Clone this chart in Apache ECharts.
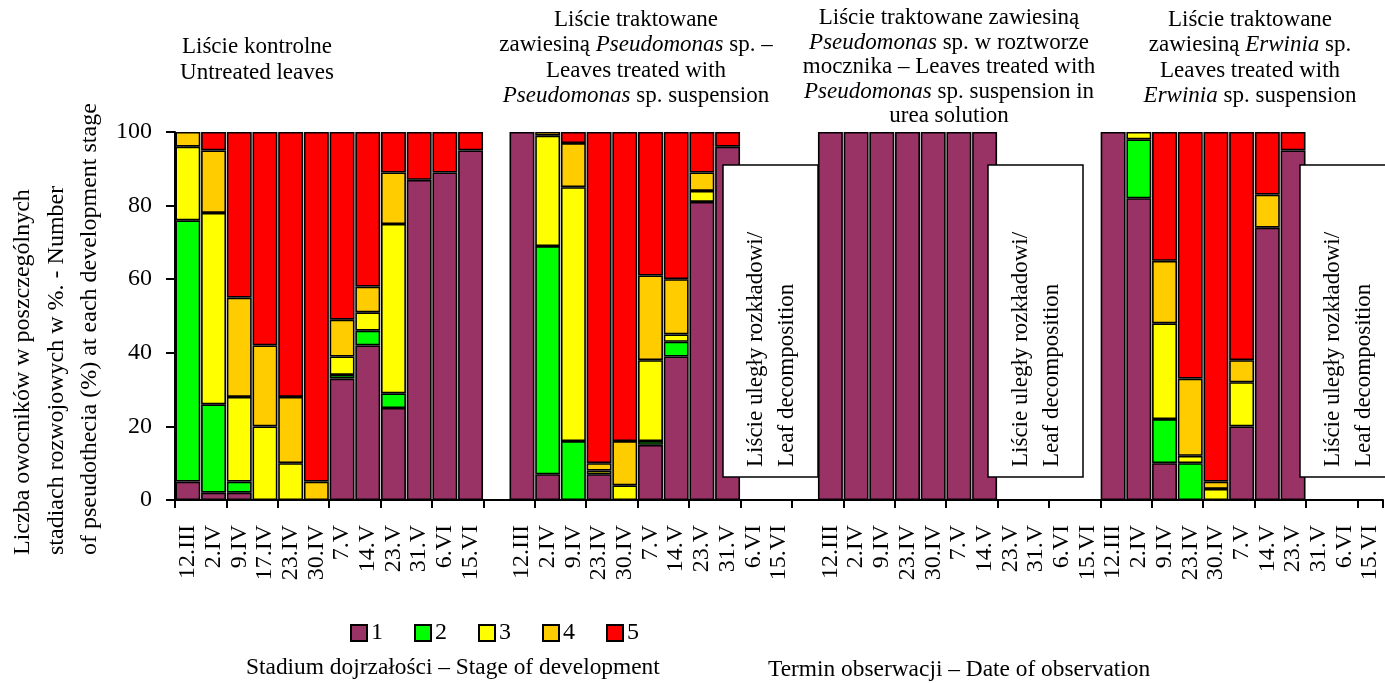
<!DOCTYPE html>
<html><head><meta charset="utf-8">
<script src="https://cdn.jsdelivr.net/npm/echarts@6/dist/echarts.min.js"></script>
<style>html,body{margin:0;padding:0;background:#fff}#c{width:1385px;height:683px}</style>
</head><body><div id="c"></div>
<script>
// ---- categories ----
const datesControl = ['12.III','2.IV','9.IV','17.IV','23.IV','30.IV','7.V','14.V','23.V','31.V','6.VI','15.VI'];
const datesTreated = ['12.III','2.IV','9.IV','23.IV','30.IV','7.V','14.V','23.V','31.V','6.VI','15.VI'];
const stageNames = ['1','2','3','4','5'];
const stageColors = ['#993366','#00ff00','#ffff00','#ffcc00','#ff0000'];

// ---- Panel 1: control (untreated leaves) ----
const p1Stage1 = [5,2,2,0,0,0,33,42,25,87,89,95];
const p1Stage2 = [71,24,3,0,0,0,1,4,4,0,0,0];
const p1Stage3 = [20,52,23,20,10,0,5,5,46,0,0,0];
const p1Stage4 = [4,17,27,22,18,5,10,7,14,0,0,0];
const p1Stage5 = [0,5,45,58,72,95,51,42,11,13,11,5];
// ---- Panel 2: Pseudomonas sp. suspension ----
const p2Stage1 = [100,7,0,7,0,15,39,81,96];
const p2Stage2 = [0,62,16,0,0,1,4,0,0];
const p2Stage3 = [0,30,69,1,4,22,2,3,0];
const p2Stage4 = [0,1,12,2,12,23,15,5,0];
const p2Stage5 = [0,0,3,90,84,39,40,11,4];
// ---- Panel 3: Pseudomonas sp. in urea solution ----
const p3Stage1 = [100,100,100,100,100,100,100];
const p3Stage2 = [0,0,0,0,0,0,0];
const p3Stage3 = [0,0,0,0,0,0,0];
const p3Stage4 = [0,0,0,0,0,0,0];
const p3Stage5 = [0,0,0,0,0,0,0];
// ---- Panel 4: Erwinia sp. suspension ----
const p4Stage1 = [100,82,10,0,0,20,74,95];
const p4Stage2 = [0,16,12,10,0,0,0,0];
const p4Stage3 = [0,2,26,2,3,12,0,0];
const p4Stage4 = [0,0,17,21,2,6,9,0];
const p4Stage5 = [0,0,35,67,95,62,17,5];

// ---- build ----
const categories = [].concat(datesControl, [''], datesTreated, [''], datesTreated, datesTreated);
function pad(arr, n){ const out = arr.map(v => v === 0 ? null : v); while(out.length < n) out.push(null); return out; }
const panels = [
  [p1Stage1,p1Stage2,p1Stage3,p1Stage4,p1Stage5],
  [p2Stage1,p2Stage2,p2Stage3,p2Stage4,p2Stage5],
  [p3Stage1,p3Stage2,p3Stage3,p3Stage4,p3Stage5],
  [p4Stage1,p4Stage2,p4Stage3,p4Stage4,p4Stage5]
];
function stageData(k){
  return [].concat(pad(panels[0][k],12),[null],pad(panels[1][k],11),[null],pad(panels[2][k],11),pad(panels[3][k],11));
}

const FF = '"Liberation Serif","Times New Roman",serif';
const series = stageNames.map((name,k)=>({
  name: name, type:'bar', stack:'s', data: stageData(k),
  barCategoryGap:'3%',
  itemStyle:{color:stageColors[k], borderColor:'#000', borderWidth:1.6},
  emphasis:{disabled:true}
}));

function richText(lines){
  return lines.map(line => line.map(seg => '{' + (seg[1] ? 'i' : 'n') + '|' + seg[0] + '}').join('')).join('\n');
}
function rich(lh, fs){
  return {
    n:{fontFamily:FF, fontSize:fs, lineHeight:lh, fill:'#000', color:'#000'},
    i:{fontFamily:FF, fontSize:fs, lineHeight:lh, fontStyle:'italic', fill:'#000', color:'#000'}
  };
}
function title(x, y, lines, lh){
  return {type:'text', x:x, y:y, z:100, style:{text:richText(lines), rich:rich(lh,23), align:'center', verticalAlign:'top', fill:'#000'}};
}
function decompBox(x){
  return [
    {type:'rect', z:100, shape:{x:x, y:165, width:95, height:312}, style:{fill:'#fff', stroke:'#000', lineWidth:1.5}},
    {type:'text', z:101, x:x+17.5, y:467, rotation:Math.PI/2,
     style:{text:'Liście uległy rozkładowi/\nLeaf decomposition', font:'23px ' + FF, lineHeight:31, align:'left', verticalAlign:'top', fill:'#000'}}
  ];
}

const chart = echarts.init(document.getElementById('c'));
chart.setOption({
  animation:false,
  backgroundColor:'#fff',
  grid:{left:175, right:2, top:132, bottom:183, containLabel:false},
  legend:{
    data:stageNames, left:345, top:616, itemWidth:16, itemHeight:16, itemGap:31, icon:'rect',
    itemStyle:{borderColor:'#000', borderWidth:2},
    textStyle:{fontFamily:FF, fontSize:24, color:'#000', padding:[0,0,0,-1]}
  },
  xAxis:{
    type:'category', data:categories,
    axisLine:{lineStyle:{color:'#000', width:2}},
    axisTick:{show:true, interval:1, length:8, lineStyle:{color:'#000', width:2}},
    axisLabel:{interval:0, rotate:90, margin:25, fontFamily:FF, fontSize:24, color:'#000'}
  },
  yAxis:{
    type:'value', min:0, max:100, interval:20,
    axisLine:{show:true, lineStyle:{color:'#000', width:2}},
    axisTick:{show:true, length:9, lineStyle:{color:'#000', width:2}},
    axisLabel:{margin:23, fontFamily:FF, fontSize:24, color:'#000'},
    splitLine:{show:false}
  },
  series: series,
  graphic: [].concat(
    [
      title(257, 34, [[['Liście kontrolne',0]],[['Untreated leaves',0]]], 26),
      title(636, 7, [[['Liście traktowane',0]],[['zawiesiną ',0],['Pseudomonas',1],[' sp. –',0]],[['Leaves treated with',0]],[['Pseudomonas',1],[' sp. suspension',0]]], 25.5),
      title(949, 6, [[['Liście traktowane zawiesiną',0]],[['Pseudomonas',1],[' sp. w roztworze',0]],[['mocznika – Leaves treated with',0]],[['Pseudomonas',1],[' sp. suspension in',0]],[['urea solution',0]]], 24.5),
      title(1250, 7, [[['Liście traktowane',0]],[['zawiesiną ',0],['Erwinia',1],[' sp.',0]],[['Leaves treated with',0]],[['Erwinia',1],[' sp. suspension',0]]], 25.5),
      {type:'text', x:6, y:555, rotation:Math.PI/2, z:100,
       style:{text:'Liczba owocników w poszczególnych\nstadiach rozwojowych w %. - Number\nof pseudothecia (%) at each development stage', font:'24px ' + FF, lineHeight:33.5, align:'left', verticalAlign:'top', fill:'#000'}},
      {type:'text', x:246, y:668, z:100, style:{text:'Stadium dojrzałości – Stage of development', font:'23.4px ' + FF, align:'left', verticalAlign:'middle', fill:'#000'}},
      {type:'text', x:768, y:670, z:100, style:{text:'Termin obserwacji – Date of observation', font:'23.4px ' + FF, align:'left', verticalAlign:'middle', fill:'#000'}}
    ],
    decompBox(723), decompBox(988), decompBox(1300)
  )
});
</script></body></html>
